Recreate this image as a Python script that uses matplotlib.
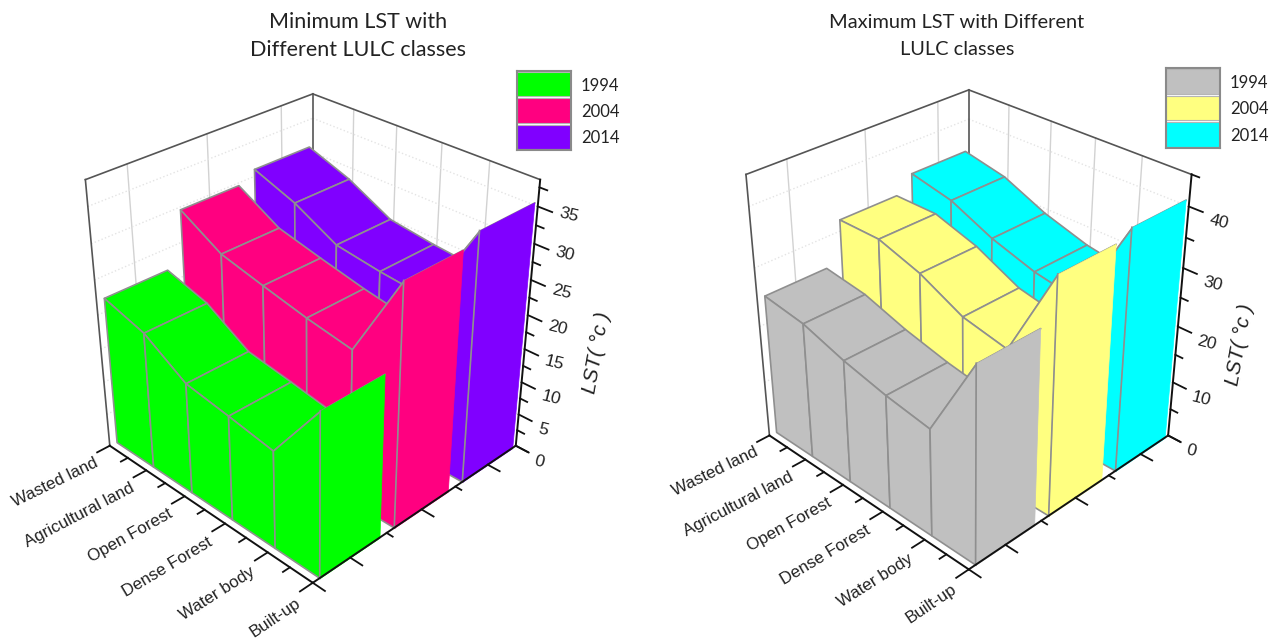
import matplotlib
matplotlib.use("Agg")
import matplotlib.pyplot as plt
from mpl_toolkits.mplot3d.art3d import Poly3DCollection
from mpl_toolkits.mplot3d import proj3d

plt.rcParams['font.family'] = ['Liberation Sans', 'DejaVu Sans']

categories = ["Wasted land", "Agricultural land", "Open Forest", "Dense Forest", "Water body", "Built-up"]
years = ["1994", "2004", "2014"]

min_1994 = [22.0, 20.2, 16.4, 15.4, 14.3, 23.5]
min_2004 = [29.7, 26.2, 24.7, 23.3, 22.2, 34.4]
min_2014 = [31.1, 28.8, 25.5, 24.6, 24.0, 35.8]

max_1994 = [24.8, 23.8, 21.5, 19.8, 18.6, 33.2]
max_2004 = [32.0, 32.0, 29.7, 26.1, 24.6, 40.1]
max_2014 = [34.7, 33.1, 29.8, 27.5, 26.2, 41.4]

min_colors = ["#00ff00", "#ff0080", "#8000ff"]
max_colors = ["#c0c0c0", "#ffff80", "#00ffff"]

# where each wall sits along the depth axis (0 to 1)
wall_start = [0.03, 0.37, 0.71]
wall_end = [0.30, 0.635, 0.98]

EDGE = "#8f8f8f"
INK = "#111111"
W = 1275
H = 642


def wall(ax, values, y0, y1, color, z):
    """one wall: top ribbon first, then the front segments, then the end cap"""
    for i in range(len(values) - 1):
        top = [(i, y0, values[i]), (i + 1, y0, values[i + 1]),
               (i + 1, y1, values[i + 1]), (i, y1, values[i])]
        ax.add_collection3d(Poly3DCollection([top], facecolors=color, edgecolors=EDGE,
                                             linewidths=1.2, zorder=z))
    for i in range(len(values) - 1):
        front = [(i, y0, 0), (i + 1, y0, 0), (i + 1, y0, values[i + 1]), (i, y0, values[i])]
        ax.add_collection3d(Poly3DCollection([front], facecolors=color, edgecolors=EDGE,
                                             linewidths=1.2, zorder=z + 1))
    last = len(values) - 1
    end = [(last, y0, 0), (last, y1, 0), (last, y1, values[last]), (last, y0, values[last])]
    ax.add_collection3d(Poly3DCollection([end], facecolors=color, edgecolors=color,
                                         linewidths=0.5, zorder=z + 2))
    ax.plot([last, last], [y0, y0], [0, values[last]], color=EDGE, lw=1.2, zorder=z + 3)


def label3d(ax, x, y, z, s, **kw):
    # Text3D ignores rotation, so project the anchor and use a 2D text
    px, py, _ = proj3d.proj_transform(x, y, z, ax.get_proj())
    ax.text2D(px, py, s, transform=ax.transData, rotation_mode='anchor', color="#222222",
              clip_on=False, zorder=42, **kw)


def panel(rect, data, colors, zmax, zmajor, zminor, zoom, label_scale):
    ax = fig.add_axes([rect[0] / W, rect[1] / H, rect[2] / W, rect[3] / H],
                      projection='3d', computed_zorder=False)
    ax.set_proj_type('persp', focal_length=0.4)
    ax.view_init(elev=31, azim=-45)
    ax.set_box_aspect((1, 1, 1.02), zoom=zoom)
    ax.set_xlim(0, 5)
    ax.set_ylim(0, 1)
    ax.set_zlim(0, zmax)
    ax.set_axis_off()
    ax.patch.set_alpha(0)

    # back wall grid
    centers = [(a + b) / 2 for a, b in zip(wall_start, wall_end)]
    for c in centers:
        ax.plot([0, 0], [c, c], [0, zmax], color="#d2d2d2", lw=1, zorder=1)
    for i in range(1, 5):
        ax.plot([i, i], [1, 1], [0, zmax], color="#d2d2d2", lw=1, zorder=1)
    for t in zmajor[1:]:
        ax.plot([0, 0], [0, 1], [t, t], color="#e4e4e4", lw=1, ls=":", zorder=1)
        ax.plot([0, 5], [1, 1], [t, t], color="#e4e4e4", lw=1, ls=":", zorder=1)

    # box edges
    for xs, ys, zs in [([0, 0], [0, 1], [zmax, zmax]), ([0, 5], [1, 1], [zmax, zmax]),
                       ([0, 0], [0, 0], [0, zmax]), ([0, 0], [1, 1], [0, zmax])]:
        ax.plot(xs, ys, zs, color="#555555", lw=1.2, zorder=2)

    for n in range(len(data) - 1, -1, -1):
        wall(ax, data[n], wall_start[n], wall_end[n], colors[n], 10 + 5 * (2 - n))

    # front axis lines
    ax.plot([0, 5], [0, 0], [0, 0], color=INK, lw=1.4, zorder=40)
    ax.plot([5, 5], [0, 1], [0, 0], color=INK, lw=1.4, zorder=40)
    ax.plot([5, 5], [1, 1], [0, zmax], color=INK, lw=1.4, zorder=40)

    # x ticks and labels, the lower ones lean a bit more as in the original
    for i in range(6):
        ax.plot([i, i], [0, -0.055], [0, 0], color=INK, lw=1.3, zorder=41)
        label3d(ax, i, -0.06, -0.036 * zmax, categories[i], rotation=26 + 1.6 * i,
                ha='right', va='center', fontsize=12.2)
    for i in range(5):
        ax.plot([i + .5, i + .5], [0, -0.03], [0, 0], color=INK, lw=1.3, zorder=41)

    # depth ticks, no labels
    for c in centers + [0, 1]:
        ax.plot([5, 5.26], [c, c], [0, 0], color=INK, lw=1.3, zorder=41)
    for a, b in zip(centers[:-1], centers[1:]):
        m = (a + b) / 2
        ax.plot([5, 5.13], [m, m], [0, 0], color=INK, lw=1.3, zorder=41)

    # z ticks and labels
    for t in zmajor:
        ax.plot([5, 5.28], [1, 1], [t, t], color=INK, lw=1.3, zorder=41)
        label3d(ax, 5.42, 1, t * label_scale - 0.8, str(t), rotation=-14, ha='left', va='center', fontsize=12.5)
    for t in zminor:
        ax.plot([5, 5.15], [1, 1], [t, t], color=INK, lw=1.3, zorder=41)
    return ax


def legend_box(x0, y0, w, h, colors):
    lax = fig.add_axes([x0 / W, 1 - (y0 + h) / H, w / W, h / H])
    lax.barh([2, 1, 0], [1, 1, 1], height=0.92, color=colors, edgecolor="#b5b5b5", linewidth=0.8)
    lax.set_xlim(0, 1)
    lax.set_ylim(-0.5, 2.5)
    lax.set_xticks([])
    lax.yaxis.tick_right()
    lax.set_yticks([2, 1, 0])
    lax.set_yticklabels(years, family=['Lato', 'DejaVu Sans'], fontsize=12, color="#222222")
    lax.tick_params(axis='y', length=0, pad=7)
    for s in lax.spines.values():
        s.set_color("#8a8a8a")
        s.set_linewidth(1.5)


fig = plt.figure(figsize=(W / 100, H / 100), dpi=100, facecolor='white')

panel((-21, -12, 650, 650), [min_1994, min_2004, min_2014], min_colors, 38.5,
      [0, 5, 10, 15, 20, 25, 30, 35], [2.5, 7.5, 12.5, 17.5, 22.5, 27.5, 32.5, 37.5], 0.79, 1.03)
panel((635, -4, 650, 650), [max_1994, max_2004, max_2014], max_colors, 45,
      [0, 10, 20, 30, 40], [5, 15, 25, 35, 45], 0.775, 1.0)

legend_box(517, 71, 54, 79, min_colors)
legend_box(1166, 68, 54, 80, max_colors)

lst_font = dict(rotation=80, ha='center', va='center', fontsize=15, style='italic', color="#222222")
fig.text(597 / W, 1 - 353 / H, "LST( °c )", **lst_font)
fig.text(1240 / W, 1 - 345 / H, "LST( °c )", **lst_font)

title_font = ['Lato', 'DejaVu Sans']
fig.text(358 / W, 1 - 36 / H, "Minimum LST with\nDifferent LULC classes", ha='center', va='center',
         fontsize=15.5, family=title_font, color="#222222", linespacing=1.55)
fig.text(957 / W, 1 - 36 / H, "Maximum LST with Different\nLULC classes", ha='center', va='center',
         fontsize=14.4, family=title_font, color="#222222", linespacing=1.65)

fig.savefig("out.png", dpi=100, facecolor='white')
